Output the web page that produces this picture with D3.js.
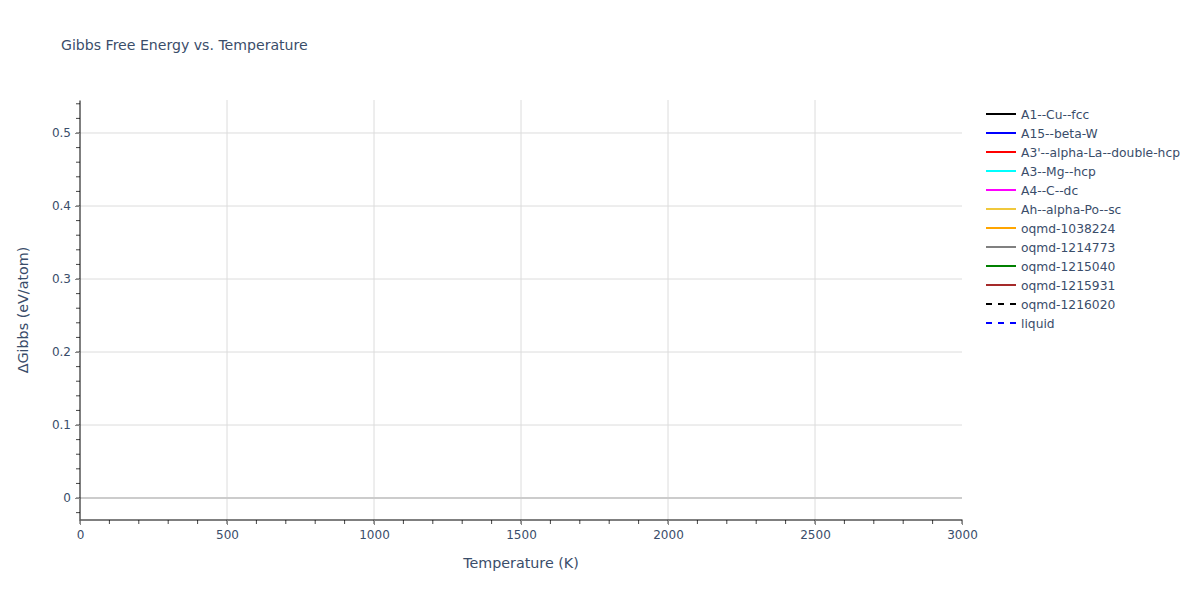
<!DOCTYPE html>
<html>
<head>
    <meta charset="utf-8">
    <title>Gibbs Free Energy vs. Temperature</title>
    <script src="https://d3js.org/d3.v7.min.js"></script>
    <style>
        body { margin: 0; background: #fff; }
        svg text { font-family: "DejaVu Sans", Verdana, sans-serif; fill: #2a3f5f; }
    </style>
</head>
<body>
    <div id="chart"></div>
    <script>
        // phase names, line colours and dash styles (as in the legend)
        var phaseNames = ["A1--Cu--fcc", "A15--beta-W", "A3'--alpha-La--double-hcp", "A3--Mg--hcp",
            "A4--C--dc", "Ah--alpha-Po--sc", "oqmd-1038224", "oqmd-1214773", "oqmd-1215040",
            "oqmd-1215931", "oqmd-1216020", "liquid"];
        var phaseColors = ["#000000", "#0000ff", "#ff0000", "#00ffff", "#ff00ff", "#f0c83c",
            "#ffa500", "#808080", "#008000", "#a52a2a", "#000000", "#0000ff"];
        var phaseDashed = [false, false, false, false, false, false, false, false, false, false, true, true];

        // the reference shows no visible curve for any phase: every series is empty
        var temperatures = [];
        var gibbsValues = phaseNames.map(function () { return []; });

        // axis ranges and tick values
        var xDomain = [0, 3000];
        var yDomain = [-0.0301, 0.5452];
        var xTicks = [0, 500, 1000, 1500, 2000, 2500, 3000];
        var yTicks = [0, 0.1, 0.2, 0.3, 0.4, 0.5];

        var W = 1200, H = 600;
        var margin = { top: 100, right: 238, bottom: 80, left: 80 };
        var width = W - margin.left - margin.right,
            height = H - margin.top - margin.bottom;

        var svg = d3.select("#chart").append("svg")
            .attr("width", W).attr("height", H);

        var x = d3.scaleLinear().domain(xDomain).range([0, width]);
        var y = d3.scaleLinear().domain(yDomain).range([height, 0]);

        var g = svg.append("g")
            .attr("transform", "translate(" + margin.left + "," + margin.top + ")");

        // grid lines
        g.append("g").selectAll("line").data(xTicks.filter(function (d) { return d > 0 && d < 3000; }))
            .enter().append("line")
            .attr("x1", function (d) { return x(d); }).attr("x2", function (d) { return x(d); })
            .attr("y1", 0).attr("y2", height)
            .attr("stroke", "#dcdcdc").attr("stroke-width", 1);
        g.append("g").selectAll("line").data(yTicks.filter(function (d) { return d !== 0; }))
            .enter().append("line")
            .attr("x1", 0).attr("x2", width)
            .attr("y1", function (d) { return y(d); }).attr("y2", function (d) { return y(d); })
            .attr("stroke", "#dcdcdc").attr("stroke-width", 1);

        // zero line
        g.append("line")
            .attr("x1", 0).attr("x2", width)
            .attr("y1", y(0)).attr("y2", y(0))
            .attr("stroke", "#cccccc").attr("stroke-width", 2);

        // series lines (none have data)
        var line = d3.line()
            .defined(function (d) { return d[1] != null && !isNaN(d[1]); })
            .x(function (d) { return x(d[0]); })
            .y(function (d) { return y(d[1]); });
        phaseNames.forEach(function (name, i) {
            var pts = gibbsValues[i].map(function (v, j) { return [temperatures[j], v]; });
            g.append("path")
                .datum(pts)
                .attr("fill", "none")
                .attr("stroke", phaseColors[i])
                .attr("stroke-width", 2)
                .attr("stroke-dasharray", phaseDashed[i] ? "6,6" : null)
                .attr("d", line);
        });

        // minor ticks
        var xMinor = d3.range(0, 3001, 100);
        var yMinor = d3.range(-0.02, 0.545, 0.02);
        g.append("g").selectAll("line").data(xMinor).enter().append("line")
            .attr("x1", function (d) { return x(d); }).attr("x2", function (d) { return x(d); })
            .attr("y1", height).attr("y2", height + 4)
            .attr("stroke", "#444").attr("stroke-width", 1);
        g.append("g").selectAll("line").data(yMinor).enter().append("line")
            .attr("x1", 0).attr("x2", -4)
            .attr("y1", function (d) { return y(d); }).attr("y2", function (d) { return y(d); })
            .attr("stroke", "#444").attr("stroke-width", 1);

        // axes
        var xAxis = g.append("g")
            .attr("transform", "translate(0," + height + ")")
            .call(d3.axisBottom(x).tickValues(xTicks).tickSize(5).tickPadding(5).tickFormat(d3.format("d")));
        var yAxis = g.append("g")
            .call(d3.axisLeft(y).tickValues(yTicks).tickSize(5).tickPadding(4)
                .tickFormat(function (d) { return d === 0 ? "0" : d3.format(".1f")(d); }));
        [xAxis, yAxis].forEach(function (a) {
            a.select(".domain").attr("stroke", "#000").attr("stroke-width", 1);
            a.selectAll(".tick line").attr("stroke", "#888");
            a.selectAll(".tick text").attr("font-size", 12).style("fill", "#3a4d6a");
        });
        xAxis.select(".domain").attr("d", "M0.5,0H" + (width + 0.5));
        yAxis.select(".domain").attr("d", "M0,0.5V" + (height + 0.5));

        // title and axis titles
        svg.append("text")
            .attr("x", 61).attr("y", 50)
            .attr("font-size", 14.1)
            .style("fill", "#3a4d6a")
            .text("Gibbs Free Energy vs. Temperature");
        svg.append("text")
            .attr("x", margin.left + width / 2).attr("y", 568)
            .attr("text-anchor", "middle")
            .attr("font-size", 14.3)
            .style("fill", "#3a4d6a")
            .text("Temperature (K)");
        svg.append("text")
            .attr("transform", "translate(28," + (margin.top + height / 2) + ") rotate(-90)")
            .attr("text-anchor", "middle")
            .attr("font-size", 14.3)
            .style("fill", "#3a4d6a")
            .text("ΔGibbs (eV/atom)");

        // legend
        var legend = svg.append("g").attr("transform", "translate(986,114)");
        var item = legend.selectAll("g").data(phaseNames).enter().append("g")
            .attr("transform", function (d, i) { return "translate(0," + (i * 19) + ")"; });
        item.append("line")
            .attr("x1", 0).attr("x2", 30).attr("y1", 0).attr("y2", 0)
            .attr("stroke", function (d, i) { return phaseColors[i]; })
            .attr("stroke-width", 2)
            .attr("stroke-dasharray", function (d, i) { return phaseDashed[i] ? "6,6" : null; });
        item.append("text")
            .attr("x", 35).attr("y", 4.5)
            .attr("font-size", 12.3)
            .style("fill", "#3a4d6a")
            .text(function (d) { return d; });
    </script>
</body>
</html>
